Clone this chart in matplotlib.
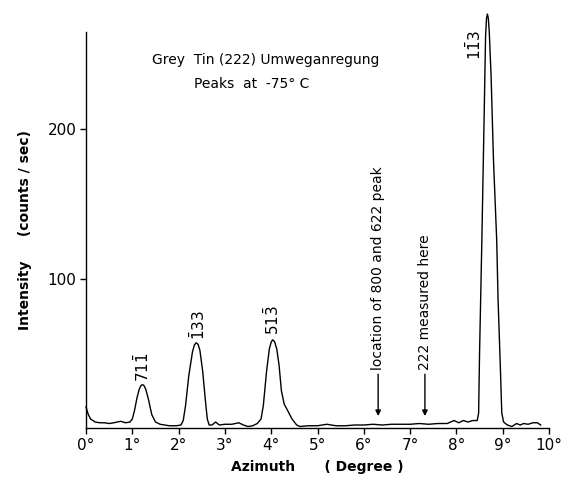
"""Grey tin (222) Umweganregung azimuth scan, redrawn from the printed figure."""

import matplotlib
matplotlib.use("Agg")
import matplotlib.pyplot as plt

plt.rcParams["font.family"] = ["DejaVu Sans"]
plt.rcParams["mathtext.fontset"] = "dejavusans"

# azimuth (degree) and intensity (counts/sec)
azimuth = [
    0.00, 0.05, 0.10, 0.20, 0.30, 0.40, 0.50, 0.60, 0.75, 0.85, 0.95,
    1.00, 1.05, 1.10, 1.15, 1.19, 1.22, 1.25, 1.29, 1.35, 1.42, 1.50,
    1.60, 1.70, 1.80, 1.95, 2.05, 2.10, 2.15, 2.22, 2.30, 2.34, 2.38,
    2.42, 2.46, 2.52, 2.58, 2.62, 2.66, 2.72, 2.80, 2.88, 3.00, 3.15,
    3.30, 3.40, 3.50, 3.60, 3.70, 3.78, 3.83, 3.90, 3.96, 4.00, 4.03,
    4.07, 4.12, 4.17, 4.22, 4.28, 4.35, 4.45, 4.55, 4.62, 4.80, 5.00,
    5.20, 5.40, 5.60, 5.80, 6.00, 6.20, 6.40, 6.60, 6.80, 7.00, 7.20,
    7.40, 7.60, 7.80, 7.95, 8.05, 8.15, 8.25, 8.35, 8.45, 8.48, 8.50,
    8.55, 8.60, 8.63, 8.65, 8.67, 8.69, 8.71, 8.75, 8.80, 8.87, 8.90,
    8.95, 8.98, 9.02, 9.10, 9.20, 9.30, 9.38, 9.45, 9.55, 9.65, 9.75,
    9.82,
]
intensity = [
    14, 9, 6, 4, 3.5, 3.5, 3, 3.5, 4.5, 3.5, 4,
    6, 12, 20, 26, 28.5, 29, 28.5, 26, 19, 9, 4,
    2.5, 2, 1.5, 1.5, 2, 5, 15, 35, 51, 55.5, 57,
    56, 52, 38, 18, 6, 2, 2, 4, 2, 2.5, 2.5,
    3.5, 2, 1, 1.5, 3, 6, 15, 38, 53, 57.5, 59,
    58, 53, 42, 25, 16, 12, 6, 2, 1, 1.5, 1.5,
    2.5, 1.5, 1.5, 2, 2, 2.5, 2, 2.5, 2.5, 2.5, 3,
    2.5, 3, 3, 5, 3.5, 5, 4, 5, 5, 10, 50,
    126, 210, 262, 274, 277, 274, 265, 235, 180, 126, 86,
    40, 10, 4, 2, 1, 3, 2, 3, 2.5, 3.5, 3.5,
    2,
]

x_ticks = [0, 1, 2, 3, 4, 5, 6, 7, 8, 9, 10]
x_tick_labels = [f"{t}°" for t in x_ticks]
y_ticks = [100, 200]

# reflection labels: (azimuth, intensity, text)
peak_pos = [1.22, 2.42, 4.02, 8.39]
peak_height = [41, 69, 72, 256]
peak_text = [r"$71\bar{1}$", r"$\bar{1}33$", r"$51\bar{3}$", r"$1\bar{1}3$"]

# arrows marking positions along the azimuth
arrow_pos = [6.31, 7.32]
arrow_text = ["location of 800 and 622 peak", "222 measured here"]

fig = plt.figure(figsize=(5.61, 4.8), dpi=100)
ax = fig.add_axes([86 / 561, 52 / 480, 463 / 561, 396 / 480])

ax.plot(azimuth, intensity, color="black", linewidth=1.0, clip_on=False)

ax.set_xlim(0, 10)
ax.set_ylim(0, 265)
ax.set_xticks(x_ticks)
ax.set_xticklabels(x_tick_labels)
ax.set_yticks(y_ticks)
ax.tick_params(axis="both", direction="out", length=4, width=1,
               labelsize=11, pad=3)
for side in ("top", "right"):
    ax.spines[side].set_visible(False)
for side in ("left", "bottom"):
    ax.spines[side].set_linewidth(1.0)

ax.set_xlabel("Azimuth      ( Degree )", fontsize=10, fontweight="bold",
              labelpad=5)
ax.set_ylabel("Intensity     (counts / sec)", fontsize=10, fontweight="bold",
              labelpad=11)

for xp, yp, txt in zip(peak_pos, peak_height, peak_text):
    ax.text(xp, yp, txt, rotation=90, ha="center", va="center", fontsize=11)

for xp, txt in zip(arrow_pos, arrow_text):
    ax.annotate("", xy=(xp, 8), xytext=(xp, 36),
                arrowprops=dict(arrowstyle="-|>", color="black", lw=1.0,
                                mutation_scale=8, shrinkA=0, shrinkB=0))
    ax.text(xp, 39, txt, rotation=90, ha="center", va="bottom", fontsize=10,
            fontweight="medium")

ax.text(1.43, 246, "Grey  Tin (222) Umweganregung", fontsize=10,
        va="center", ha="left")
ax.text(2.33, 230, "Peaks  at  -75° C", fontsize=10, va="center", ha="left")

fig.savefig("out.png", dpi=100)
